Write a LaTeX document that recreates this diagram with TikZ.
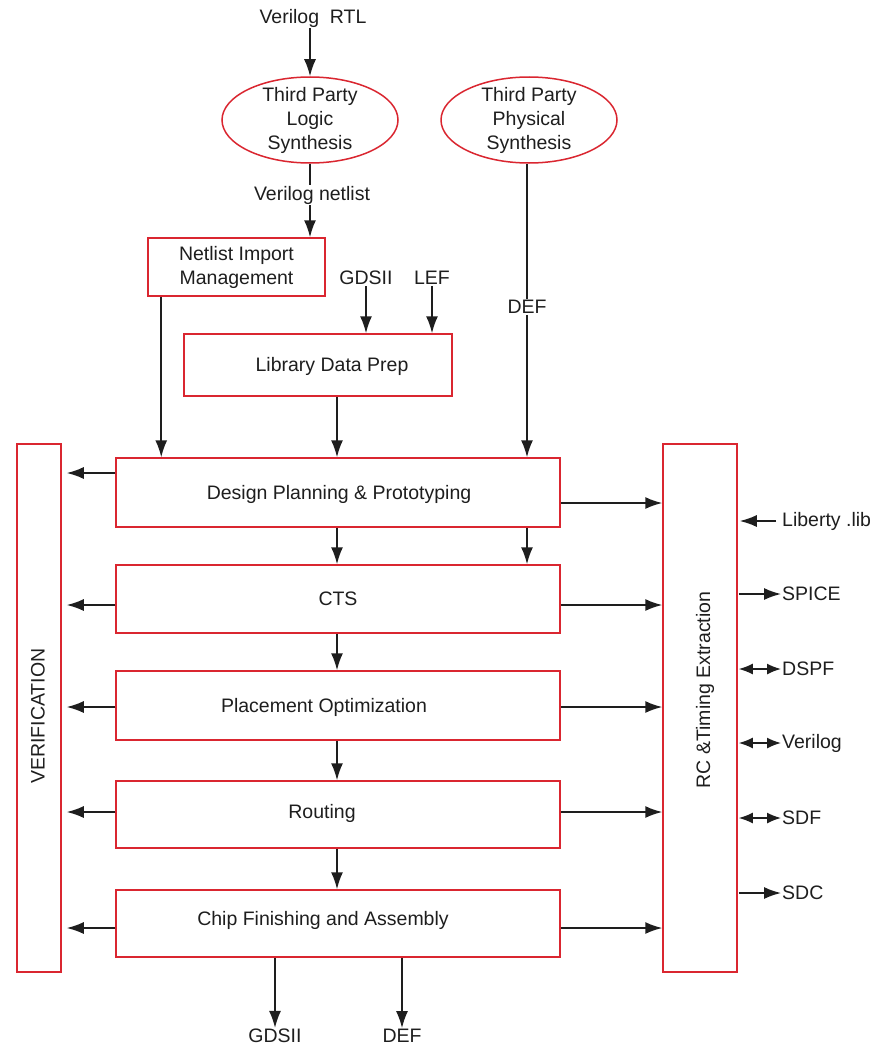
\documentclass[tikz,border=0pt]{standalone}
\usepackage{fontspec}
\setmainfont{Liberation Sans}
\usetikzlibrary{arrows.meta,shapes.geometric}
\definecolor{boxred}{RGB}{218,38,48}
\definecolor{ink}{RGB}{30,30,30}
\begin{document}
\begin{tikzpicture}[x=1pt,y=-1pt,
  every node/.style={font=\fontsize{19.5}{24}\selectfont, text=ink},
  lbl/.style={inner sep=1pt, align=center},
  ellbox/.style={draw=boxred, line width=1.5pt, ellipse, inner sep=0pt},
  rbox/.style={draw=boxred, line width=1.5pt, rectangle, inner sep=0pt},
  conn/.style={draw=ink, line width=1.6pt},
  arr/.style={conn, -{Latex[length=17pt,width=12pt]}},
  darr/.style={conn, {Latex[length=14pt,width=11pt]}-{Latex[length=14pt,width=11pt]}}
]
\useasboundingbox (0,0) rectangle (878,1049);
\fill[white] (0,0) rectangle (878,1049);

% top inputs
\node[lbl] (rtl) at (313,18) {Verilog\ \ RTL};
\node[ellbox, minimum width=176pt, minimum height=86pt] (ls) at (310,120) {};
\node[lbl] (lstxt) at (ls.center) {Third Party\\Logic\\Synthesis};
\node[ellbox, minimum width=176pt, minimum height=86pt] (ps) at (529,120) {};
\node[lbl] (pstxt) at (ps.center) {Third Party\\Physical\\Synthesis};
\node[lbl] (vnl) at (312,195) {Verilog netlist};

\node[rbox, minimum width=177pt, minimum height=58pt] (nim) at (236.5,267) {};
\node[lbl] (nimtxt) at (nim.center) {Netlist Import\\Management};

\node[lbl] (gds) at (366,278) {GDSII};
\node[lbl] (lef) at (432,278) {LEF};
\node[lbl] (def) at (527,307) {DEF};

\node[rbox, minimum width=268pt, minimum height=62pt] (ldp) at (318,365) {};
\node[lbl] (ldptxt) at (332,366) {Library Data Prep};

% main flow
\node[rbox, minimum width=444pt, minimum height=69pt] (dp) at (338,492.5) {};
\node[lbl] at (339,494) {Design Planning \& Prototyping};
\node[rbox, minimum width=444pt, minimum height=68pt] (cts) at (338,599) {};
\node[lbl] at (338,599) {CTS};
\node[rbox, minimum width=444pt, minimum height=69pt] (po) at (338,705.5) {};
\node[lbl] at (324,707) {Placement Optimization};
\node[rbox, minimum width=444pt, minimum height=67pt] (rt) at (338,814.5) {};
\node[lbl] at (322,813) {Routing};
\node[rbox, minimum width=444pt, minimum height=67pt] (cf) at (338,923.5) {};
\node[lbl] at (323,920) {Chip Finishing and Assembly};

% side boxes
\node[rbox, minimum width=44pt, minimum height=528pt] (ver) at (39,708) {};
\node[lbl, rotate=90] at (38,716) {VERIFICATION};
\node[rbox, minimum width=74pt, minimum height=528pt] (rc) at (700,708) {};
\node[lbl, rotate=90] at (705,690) {RC \&Timing Extraction};

% right side labels
\node[lbl, anchor=west] (lib) at (781,521) {Liberty .lib};
\node[lbl, anchor=west] (spice) at (781,594) {SPICE};
\node[lbl, anchor=west] (dspf) at (781,669) {DSPF};
\node[lbl, anchor=west] (vlog) at (781,743) {Verilog};
\node[lbl, anchor=west] (sdf) at (781,818) {SDF};
\node[lbl, anchor=west] (sdc) at (781,893) {SDC};

% bottom labels
\node[lbl] (gdsout) at (275,1036) {GDSII};
\node[lbl] (defout) at (402,1036) {DEF};

% connectors: top
\draw[arr] (ls.north |- rtl.south) -- (ls.north);
\draw[conn] (ls.south) -- (ls.south |- vnl.north);
\draw[arr] (ls.south |- vnl.south) -- (ls.south |- nim.north);
\draw[conn] (ps.south -| def) -- (def.north);
\draw[arr] (def.south) -- (def.south |- dp.north);
\draw[arr] (dp.south -| def) -- (def |- cts.north);
\draw[arr] (gds.south) -- (gds.south |- ldp.north);
\draw[arr] (lef.south) -- (lef.south |- ldp.north);
\draw[arr] ([xshift=14pt]nim.south west) -- ([xshift=14pt]nim.south west |- dp.north);
\draw[arr] ([xshift=19pt]ldp.south) -- ([xshift=19pt]ldp.south |- dp.north);

% main chain
\draw[arr] ([xshift=-1pt]dp.south) -- ([xshift=-1pt]cts.north);
\draw[arr] ([xshift=-1pt]cts.south) -- ([xshift=-1pt]po.north);
\draw[arr] ([xshift=-1pt]po.south) -- ([xshift=-1pt]rt.north);
\draw[arr] ([xshift=-1pt]rt.south) -- ([xshift=-1pt]cf.north);

% to verification
\draw[arr, shorten >=5pt] (dp.west |- 0,473) -- (ver.east |- 0,473);
\draw[arr, shorten >=5pt] (cts.west |- 0,605) -- (ver.east |- 0,605);
\draw[arr, shorten >=5pt] (po.west |- 0,707) -- (ver.east |- 0,707);
\draw[arr, shorten >=5pt] (rt.west |- 0,812) -- (ver.east |- 0,812);
\draw[arr, shorten >=5pt] (cf.west |- 0,928) -- (ver.east |- 0,928);

% to RC
\draw[arr] (dp.east |- 0,503) -- (rc.west |- 0,503);
\draw[arr] (cts.east |- 0,605) -- (rc.west |- 0,605);
\draw[arr] (po.east |- 0,707) -- (rc.west |- 0,707);
\draw[arr] (rt.east |- 0,812) -- (rc.west |- 0,812);
\draw[arr] (cf.east |- 0,928) -- (rc.west |- 0,928);

% RC side I/O
\draw[arr, shorten <=5pt, shorten >=2pt] (lib.west) -- (rc.east |- lib.west);
\draw[arr, shorten <=1pt] (rc.east |- spice.west) -- (spice.west);
\draw[darr, shorten <=1pt] (rc.east |- dspf.west) -- (dspf.west);
\draw[darr, shorten <=1pt] (rc.east |- vlog.west) -- (vlog.west);
\draw[darr, shorten <=1pt] (rc.east |- sdf.west) -- (sdf.west);
\draw[arr, shorten <=1pt] (rc.east |- sdc.west) -- (sdc.west);

% bottom outputs
\draw[arr] (cf.south -| gdsout) -- (gdsout.north);
\draw[arr] (cf.south -| defout) -- (defout.north);
\end{tikzpicture}
\end{document}
